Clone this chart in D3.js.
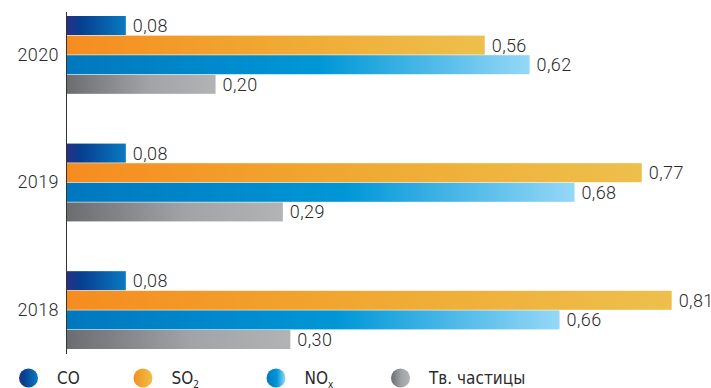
<!DOCTYPE html>
<html>
<head>
<meta charset="utf-8">
<script src="https://cdn.jsdelivr.net/npm/d3@7"></script>
<style>
  html, body { margin: 0; padding: 0; background: #fff; }
  svg { display: block; }
</style>
</head>
<body>
<svg id="chart" width="711" height="388"></svg>
<script>
const years = ["2020", "2019", "2018"];
const seriesKeys = ["CO", "SO2", "NOx", "PM"];
const seriesNames = ["CO", "SO", "NO", "Тв. частицы"];
const seriesSubs = ["", "2", "x", ""];
const coValues  = [0.08, 0.08, 0.08];
const so2Values = [0.56, 0.77, 0.81];
const noxValues = [0.62, 0.68, 0.66];
const pmValues  = [0.20, 0.29, 0.30];
const valueLabels = [
  ["0,08", "0,56", "0,62", "0,20"],
  ["0,08", "0,77", "0,68", "0,29"],
  ["0,08", "0,81", "0,66", "0,30"]
];
const gradientStops = [
  [[0, "#2b2f86"], [0.25, "#063f90"], [1, "#0a7ac2"]],
  [[0, "#f68c1f"], [0.5, "#f0a932"], [1, "#eebf4c"]],
  [[0, "#0077be"], [0.55, "#0097d7"], [1, "#95d8f7"]],
  [[0, "#6b6c70"], [0.55, "#a2a3a6"], [1, "#b2b3b5"]]
];

const seriesValues = [coValues, so2Values, noxValues, pmValues];
const data = years.map((y, i) => ({
  year: y,
  bars: seriesKeys.map((k, j) => ({ key: k, idx: j, value: seriesValues[j][i], label: valueLabels[i][j] }))
}));

const svg = d3.select("#chart");
const defs = svg.append("defs");
seriesKeys.forEach((k, j) => {
  const g = defs.append("linearGradient").attr("id", "grad-" + k)
    .attr("x1", "0").attr("y1", "0").attr("x2", "1").attr("y2", "0");
  gradientStops[j].forEach(s => g.append("stop").attr("offset", s[0]).attr("stop-color", s[1]));
});

const x = d3.scaleLinear().domain([0, 0.9]).range([66, 739]);
const y = d3.scaleBand().domain(years).range([16, 349]).paddingInner(0.39).paddingOuter(0);
const yInner = d3.scaleBand().domain(seriesKeys).range([0, y.bandwidth()]).paddingInner(0.03);

const textColor = "#2b2b2b";
const fontMain = "Roboto, 'Liberation Sans', Arial, sans-serif";

// bars
const groups = svg.append("g").selectAll("g").data(data).join("g")
  .attr("transform", d => `translate(0,${y(d.year)})`);

groups.selectAll("rect").data(d => d.bars).join("rect")
  .attr("x", x(0))
  .attr("y", d => yInner(d.key))
  .attr("width", d => x(d.value) - x(0))
  .attr("height", yInner.bandwidth())
  .attr("fill", d => `url(#grad-${d.key})`);

groups.selectAll("text").data(d => d.bars).join("text")
  .attr("x", d => x(d.value) + 7)
  .attr("y", d => yInner(d.key) + yInner.bandwidth() / 2)
  .attr("dy", "0.36em")
  .attr("font-family", fontMain)
  .attr("font-size", 18)
  .attr("font-weight", 300)
  .attr("letter-spacing", 0.4)
  .attr("fill", textColor)
  .text(d => d.label);

// axis
const axis = d3.axisLeft(y).tickSize(0).tickPadding(7);
const axisG = svg.append("g").attr("transform", `translate(${x(0)},0)`).call(axis);
axisG.select(".domain").remove();
axisG.selectAll("text")
  .attr("font-family", fontMain)
  .attr("font-size", 18)
  .attr("font-weight", 300)
  .attr("letter-spacing", 0.4)
  .attr("fill", textColor);
svg.append("line")
  .attr("x1", x(0) + 0.5).attr("x2", x(0) + 0.5)
  .attr("y1", 12).attr("y2", 354)
  .attr("stroke", "#333").attr("stroke-width", 1);

// legend
const legendX = [28.5, 143, 276, 400.5];
const legend = svg.append("g").selectAll("g").data(seriesKeys).join("g")
  .attr("transform", (d, i) => `translate(${legendX[i]},378)`);
legend.append("circle").attr("r", 9.5).attr("fill", d => `url(#grad-${d})`);
const lt = legend.append("text")
  .attr("x", 28.5)
  .attr("y", 5.5)
  .attr("font-family", "'Liberation Sans Narrow', 'DejaVu Sans Condensed', 'Roboto Condensed', sans-serif")
  .attr("font-size", 17)
  .attr("fill", textColor);
lt.append("tspan").text((d, i) => seriesNames[i]);
lt.append("tspan").attr("font-size", 10).attr("dy", 4).text((d, i) => seriesSubs[i]);
</script>
</body>
</html>
